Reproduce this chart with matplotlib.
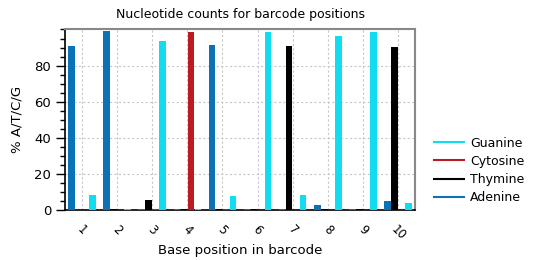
import matplotlib
matplotlib.use("Agg")
import matplotlib.pyplot as plt
import numpy as np
from matplotlib.ticker import MultipleLocator
from matplotlib.lines import Line2D

positions = ["1", "2", "3", "4", "5", "6", "7", "8", "9", "10"]
adenine  = [91.0, 99.0, 0.5, 0.5, 91.6, 0.5, 0.5, 3.0, 0.5, 5.3]
thymine  = [0.0, 0.5, 5.7, 0.5, 0.5, 0.5, 91.0, 0.5, 0.7, 90.4]
cytosine = [0.0, 0.0, 0.5, 98.7, 0.5, 0.0, 0.0, 0.0, 0.0, 0.0]
guanine  = [8.4, 0.5, 93.5, 0.5, 7.7, 98.7, 8.4, 96.3, 98.7, 4.0]

series = [("Adenine", adenine, "#0a72b5"),
          ("Thymine", thymine, "#000000"),
          ("Cytosine", cytosine, "#bd1a23"),
          ("Guanine", guanine, "#12dcef")]

fig = plt.figure(figsize=(5.4, 2.6), dpi=100)
ax = fig.add_axes([65/540, 1-210.3/260, (415-65)/540, (210.3-29.3)/260])

x = np.arange(len(positions))
w = 0.2
for i, (name, vals, col) in enumerate(series):
    ax.bar(x + (i - 1.5) * w, vals, width=w*0.92, color=col, zorder=3, linewidth=0)

ax.set_xlim(-0.48, 9.48)
ax.set_ylim(0, 100.1)
ax.set_xticks(x)
ax.set_xticklabels(positions, rotation=-45, ha="center", va="top", fontsize=8.5)
ax.yaxis.set_major_locator(MultipleLocator(20))
ax.yaxis.set_minor_locator(MultipleLocator(5))
ax.set_yticks([0, 20, 40, 60, 80])
ax.tick_params(axis="y", which="major", length=6.5, labelsize=9.5, direction="out", width=1)
ax.tick_params(axis="y", which="minor", length=3.5, direction="out", width=1)
ax.tick_params(axis="x", length=0, pad=9)
ax.grid(True, which="major", linestyle=(0, (2, 2)), color="#c8c8c8", linewidth=0.8, zorder=0)

for s in ["top", "right"]:
    ax.spines[s].set_color("#888888")
    ax.spines[s].set_linewidth(1.5)
ax.spines["left"].set_linewidth(1.2)
ax.spines["bottom"].set_linewidth(1.2)

ax.set_title("Nucleotide counts for barcode positions", fontsize=9, pad=8)
ax.set_xlabel("Base position in barcode", fontsize=9.5, labelpad=1)
ax.set_ylabel("% A/T/C/G", fontsize=9.5, labelpad=8)

handles = [Line2D([0], [0], color=c, lw=1.5) for _, _, c in reversed(series)]
labels = [n for n, _, _ in reversed(series)]
fig.legend(handles, labels, loc="center left", bbox_to_anchor=(434/540, 1-170.4/260),
           frameon=False, fontsize=9, handlelength=2.4, labelspacing=0.42,
           handletextpad=0.5, borderpad=0, borderaxespad=0)

fig.savefig("out.png", dpi=100)
